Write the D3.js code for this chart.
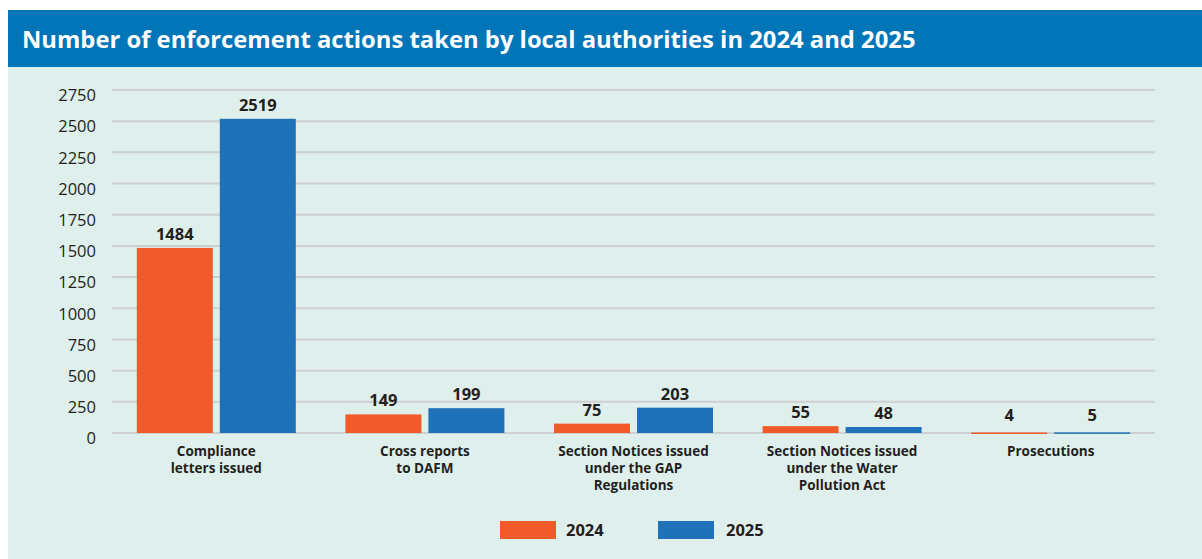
<!DOCTYPE html>
<html>
<head>
<meta charset="utf-8">
<script src="https://cdn.jsdelivr.net/npm/d3@7"></script>
<style>
  body { margin: 0; background: #fff; }
  svg { display: block; font-family: "Open Sans", "Noto Sans", sans-serif; }
</style>
</head>
<body>
<svg id="chart" width="1202" height="559"></svg>
<script>
const categories = [
    ["Compliance", "letters issued"],
    ["Cross reports", "to DAFM"],
    ["Section Notices issued", "under the GAP", "Regulations"],
    ["Section Notices issued", "under the Water", "Pollution Act"],
    ["Prosecutions"]
];
const series = ["2024", "2025"];
const values2024 = [1484, 149, 75, 55, 4];
const values2025 = [2519, 199, 203, 48, 5];
const yTicks = [0, 250, 500, 750, 1000, 1250, 1500, 1750, 2000, 2250, 2500, 2750];

const COLORS = {"2024": "#f15a29", "2025": "#1f71b8"};

const svg = d3.select('#chart');

// panel + header
svg.append('rect')
    .attr('x', 8).attr('y', 10).attr('width', 1194).attr('height', 549)
    .attr('fill', '#dfefec');
svg.append('rect')
    .attr('x', 8).attr('y', 10).attr('width', 1194).attr('height', 57)
    .attr('fill', '#0075b8');
svg.append('text')
    .text("Number of enforcement actions taken by local authorities in 2024 and 2025")
    .attr('x', 22).attr('y', 48)
    .attr('fill', '#fff')
    .attr('font-size', 23.8)
    .attr('font-weight', 700);

const PLOT_LEFT = 112, PLOT_RIGHT = 1155;
const PLOT_TOP = 90, PLOT_BOTTOM = 433;

const x = d3.scaleBand()
    .domain(d3.range(categories.length))
    .range([PLOT_LEFT, PLOT_RIGHT])
    .paddingInner(0).paddingOuter(0);

const BAR_W = 76, BAR_GAP = 7;
const xs = d3.scaleOrdinal()
    .domain(series)
    .range([x.bandwidth() / 2 - BAR_GAP / 2 - BAR_W, x.bandwidth() / 2 + BAR_GAP / 2]);

const y = d3.scaleLinear().domain([0, 2750]).range([PLOT_BOTTOM, PLOT_TOP]);

// gridlines
svg.append('g')
    .selectAll('line')
    .data(yTicks)
    .join('line')
    .attr('x1', PLOT_LEFT).attr('x2', PLOT_RIGHT)
    .attr('y1', d => y(d)).attr('y2', d => y(d))
    .attr('stroke', '#cdd0d0')
    .attr('stroke-width', 2);

// y axis labels (sit a little below their gridline, as in the original)
const yAxis = d3.axisLeft(y).tickValues(yTicks).tickFormat(d3.format('d')).tickSize(0).tickPadding(0);
const yg = svg.append('g')
    .attr('transform', `translate(96,5)`)
    .call(yAxis);
yg.select('.domain').remove();
yg.selectAll('text')
    .attr('font-size', 16.5)
    .attr('font-family', '"Open Sans", "Noto Sans", sans-serif')
    .attr('fill', '#231f20')
    .attr('dy', '0.35em');

// bars
const rows = categories.map((c, i) => ({i: i, vals: [
    {key: "2024", v: values2024[i]},
    {key: "2025", v: values2025[i]}
]}));

const groups = svg.append('g')
    .selectAll('g')
    .data(rows)
    .join('g')
    .attr('transform', d => `translate(${x(d.i)},0)`);

groups.selectAll('rect')
    .data(d => d.vals)
    .join('rect')
    .attr('x', d => xs(d.key))
    .attr('width', BAR_W)
    .attr('y', d => y(d.v))
    .attr('height', d => Math.max(PLOT_BOTTOM - y(d.v), 1.5))
    .attr('fill', d => COLORS[d.key]);

groups.selectAll('text.value')
    .data(d => d.vals)
    .join('text')
    .classed('value', true)
    .text(d => d.v)
    .attr('x', d => xs(d.key) + BAR_W / 2)
    .attr('y', d => Math.min(y(d.v), PLOT_BOTTOM - 4) - 8)
    .attr('text-anchor', 'middle')
    .attr('font-size', 16.5)
    .attr('font-weight', 700)
    .attr('fill', '#231f20');

// category labels
const catLabels = svg.append('g')
    .selectAll('text')
    .data(categories)
    .join('text')
    .attr('x', (d, i) => x(i) + x.bandwidth() / 2)
    .attr('y', 456)
    .attr('text-anchor', 'middle')
    .attr('font-size', 13.5)
    .attr('font-weight', 700)
    .attr('fill', '#231f20');

catLabels.selectAll('tspan')
    .data(d => d)
    .join('tspan')
    .attr('x', function () { return d3.select(this.parentNode).attr('x'); })
    .attr('dy', (d, i) => i === 0 ? 0 : 17)
    .text(d => d);

// legend
const legend = svg.append('g')
    .selectAll('g')
    .data(series)
    .join('g')
    .attr('transform', (d, i) => `translate(${500 + i * 158},521)`);

legend.append('rect')
    .attr('width', 56).attr('height', 18)
    .attr('fill', d => COLORS[d]);

legend.append('text')
    .text(d => d)
    .attr('x', d => d === "2024" ? 66 : 68)
    .attr('y', 15)
    .attr('font-size', 16.5)
    .attr('font-weight', 700)
    .attr('fill', '#231f20');
</script>
</body>
</html>
